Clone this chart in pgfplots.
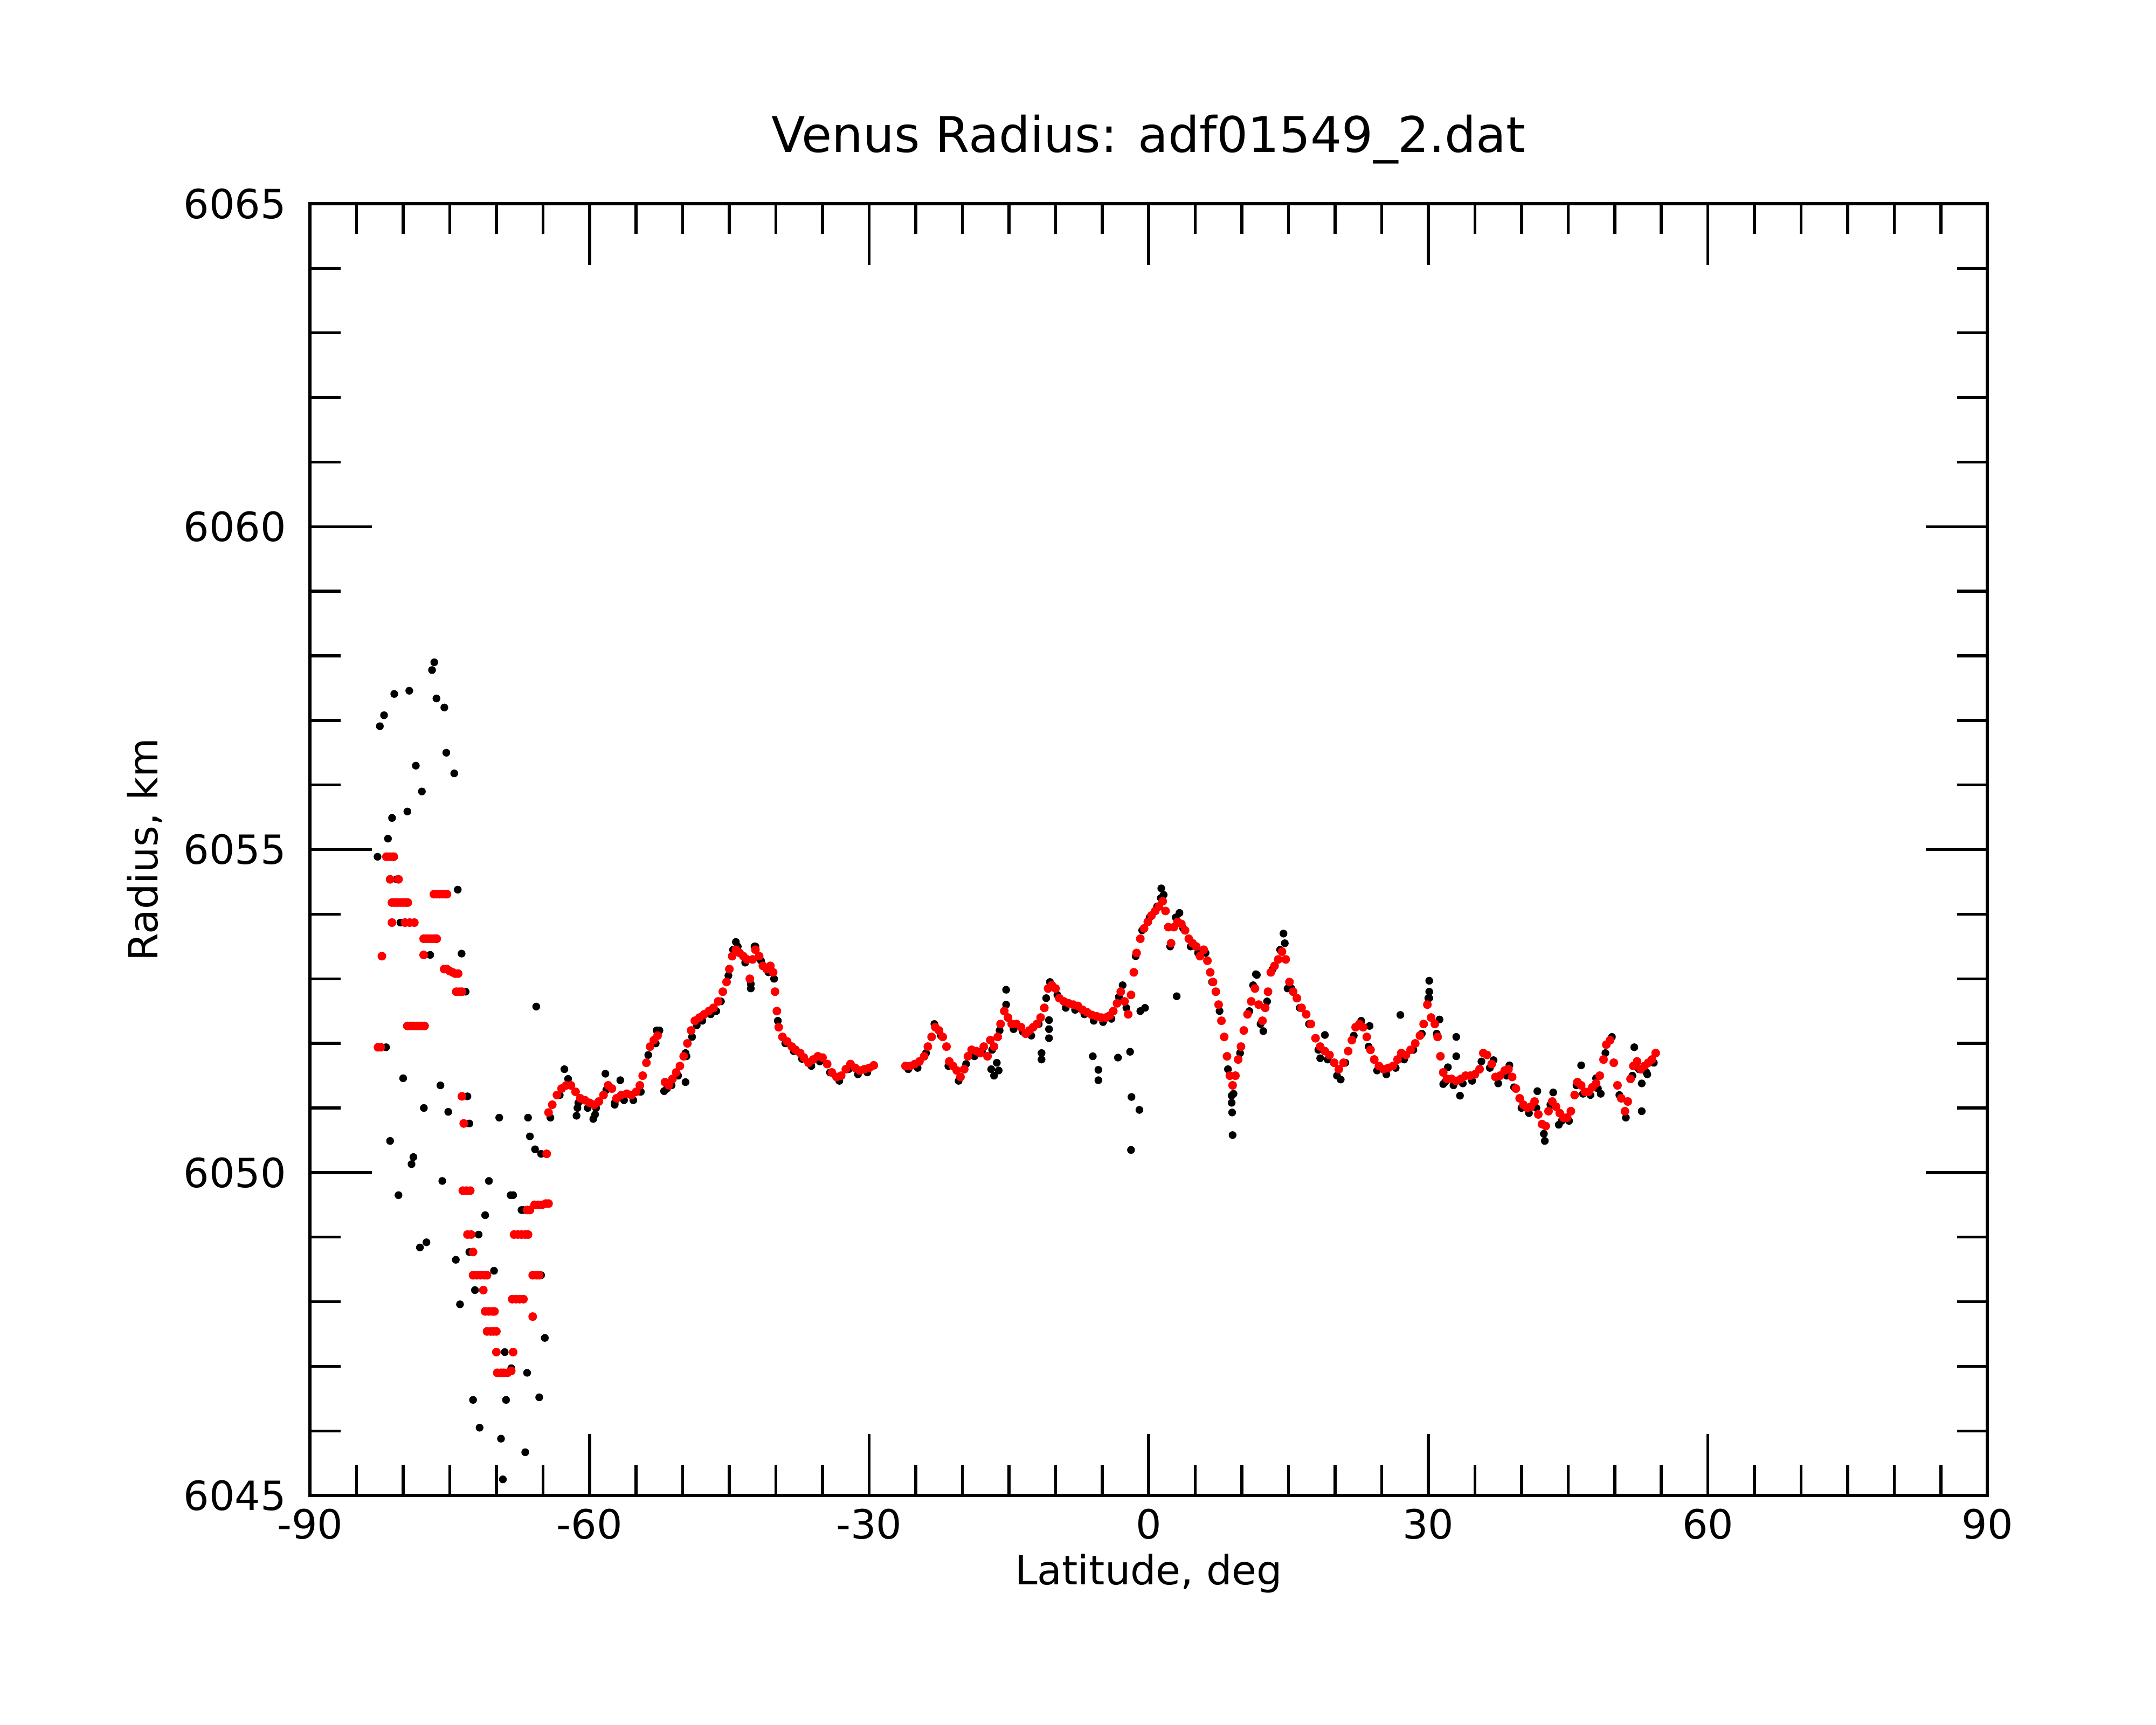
\documentclass[border=0pt]{standalone}
\usepackage{fontspec}
\setmainfont{DejaVu Sans}
\usepackage{pgfplots}
\pgfplotsset{compat=1.18}
\begin{document}
\fontsize{13.5pt}{16pt}\selectfont
\begin{tikzpicture}
\begin{axis}[
  scale only axis, width=562.3pt, height=433.1pt,
  xmin=-90, xmax=90, ymin=6045, ymax=6065,
  axis line style={line width=1.05pt},
  xtick={-90,-60,-30,0,30,60,90}, xticklabels={-90,-60,-30,0,30,60,90},
  ytick={6045,6050,6055,6060,6065}, yticklabels={6045,6050,6055,6060,6065},
  minor x tick num=5, minor y tick num=4,
  tick align=inside, major tick length=20.7pt, minor tick length=10.2pt,
  tick style={black, line width=1pt},
  xticklabel style={anchor=north, inner sep=0pt, yshift=-4.3pt},
  yticklabel style={anchor=east, inner sep=0pt, xshift=-7.8pt},
]
% black (raw) points
\addplot[only marks, mark=*, mark size=1.1pt, black, mark options={draw=none}] coordinates {
(-76.66,6057.9) (-76.9,6057.78) (-80.95,6057.41) (-79.34,6057.46) (-76.43,6057.34) (-75.58,6057.2)
(-82.05,6057.08) (-82.5,6056.91) (-75.37,6056.5) (-78.64,6056.3) (-74.52,6056.18) (-77.99,6055.9)
(-79.55,6055.59) (-81.19,6055.49) (-81.63,6055.17) (-82.75,6054.89) (-80.7,6054.54) (-74.14,6054.38)
(-80.3,6053.87) (-77.1,6053.37) (-73.73,6053.39) (-73.3,6052.8) (-65.72,6052.57) (-81.84,6051.94)
(-80.0,6051.46) (-76.0,6051.35) (-77.78,6051.0) (-75.16,6050.94) (-73.1,6051.18) (-72.9,6050.76)
(-69.69,6050.85) (-66.6,6050.85) (-66.4,6050.56) (-65.85,6050.36) (-65.2,6050.29) (-81.4,6050.49)
(-78.9,6050.24) (-79.1,6050.13) (-80.5,6049.65) (-75.8,6049.87) (-70.8,6049.87) (-68.47,6049.65)
(-68.2,6049.65) (-67.3,6049.42) (-67.1,6049.42) (-71.2,6049.34) (-71.9,6049.04) (-78.2,6048.84)
(-77.5,6048.92) (-74.35,6048.65) (-72.9,6048.77) (-70.25,6048.48) (-65.2,6048.41) (-72.3,6048.18)
(-73.9,6047.96) (-64.8,6047.44) (-69.1,6047.22) (-68.4,6046.97) (-66.7,6046.9) (-72.5,6046.48)
(-68.96,6046.48) (-65.4,6046.52) (-71.8,6046.05) (-69.5,6045.88) (-66.9,6045.67) (-69.3,6045.25)
(-62.7,6051.6) (-61.4,6050.88) (-61.3,6051.0) (-59.6,6050.83) (-59.4,6050.9) (-58.3,6051.53)
(-56.7,6051.43) (-57.3,6051.05) (-52.8,6052.2) (-52.0,6051.26) (-49.7,6051.4) (-49.6,6051.8)
(-42.7,6052.85) (-44.3,6053.57) (-42.2,6053.5)
(-15.3,6052.83) (-11.5,6051.85) (-11.5,6051.75) (-10.7,6052.36) (-10.7,6052.22) (-10.7,6052.08)
(-16.9,6051.6) (-16.6,6051.5) (-16.3,6051.7) (-16.1,6051.58)
(-6.0,6051.8) (-5.4,6051.59) (-5.4,6051.43) (-3.3,6051.78) (-2.0,6051.87) (-1.85,6051.17)
(-1.0,6050.97) (-1.9,6050.35) (-0.9,6052.5) (-0.4,6052.55) (3.0,6052.73)
(8.9,6051.19) (8.9,6051.08) (8.95,6050.93) (9.0,6050.58) (1.35,6054.4) (3.3,6054.02) (11.6,6053.06)
(14.46,6053.7) (11.5,6053.07) (12.3,6052.19) (14.9,6052.85) (18.9,6052.13) (18.4,6051.77)
(20.6,6051.44) (23.7,6052.27) (27.0,6052.44) (30.1,6052.97) (30.1,6052.8) (30.0,6052.7)
(31.2,6052.37) (33.0,6052.1) (33.0,6051.8) (32.1,6051.63) (31.6,6051.37) (33.4,6051.19)
(37.0,6051.74) (38.7,6051.66) (41.7,6051.26) (43.4,6051.24) (46.4,6051.66) (48.0,6051.46)
(48.5,6051.22) (44.0,6050.74) (42.5,6050.49) (52.1,6051.94) (52.9,6050.95) (53.5,6051.52)
(52.9,6051.38)
(-64.2,6050.85) (-63.2,6051.2) (-62.3,6051.45) (-61.2,6051.08) (-60.2,6051.0) (-59.3,6051.0)
(-58.2,6051.28) (-57.3,6051.08) (-56.3,6051.12) (-55.3,6051.12) (-54.5,6051.25) (-53.7,6051.82)
(-52.9,6052.0) (-52.5,6052.2) (-51.7,6051.3) (-51.2,6051.35) (-50.5,6051.5) (-49.7,6051.85)
(-49.0,6052.1) (-48.5,6052.28) (-47.9,6052.35) (-47.0,6052.45) (-46.4,6052.5) (-45.9,6052.65)
(-45.1,6053.05) (-44.6,6053.45) (-44.1,6053.5) (-43.3,6053.25) (-42.7,6052.92) (-42.3,6053.5)
(-41.6,6053.28) (-40.8,6053.1) (-40.2,6053.0) (-39.8,6052.35) (-39.0,6052.0) (-38.1,6051.88)
(-37.2,6051.76) (-36.2,6051.65) (-35.3,6051.72) (-34.2,6051.55) (-33.2,6051.42) (-32.2,6051.6)
(-31.2,6051.52) (-30.2,6051.55) (-25.8,6051.6) (-24.8,6051.62) (-23.9,6051.85) (-23.0,6052.3)
(-22.3,6052.12) (-21.5,6051.65) (-20.4,6051.42) (-19.6,6051.68) (-18.7,6051.8) (-17.9,6051.88)
(-16.8,6051.9) (-16.0,6052.2) (-15.3,6052.6) (-14.5,6052.22) (-13.5,6052.18) (-12.6,6052.12)
(-11.8,6052.3) (-11.0,6052.7) (-10.6,6052.95) (-9.8,6052.75) (-8.9,6052.55) (-7.9,6052.52)
(-6.9,6052.45) (-5.9,6052.35) (-4.9,6052.33) (-4.0,6052.38) (-3.2,6052.72) (-2.8,6052.9)
(-2.4,6052.55) (-1.4,6053.35) (-0.7,6053.75) (0.1,6053.95) (0.9,6054.12) (1.3,6054.25)
(1.6,6054.3) (2.3,6053.5) (2.9,6053.95) (3.7,6053.78) (4.5,6053.5) (5.3,6053.4) (6.1,6053.4)
(6.8,6052.95) (7.6,6052.5) (8.5,6051.6) (9.1,6051.22) (9.8,6051.85) (10.8,6052.5) (11.2,6052.9)
(12.0,6052.3) (12.7,6052.65) (13.3,6053.15) (14.1,6053.45) (14.6,6053.55) (15.3,6052.85)
(16.2,6052.55) (17.2,6052.3) (18.2,6051.9) (19.2,6051.75) (20.2,6051.5) (21.1,6051.7)
(22.0,6052.12) (22.8,6052.35) (23.6,6051.95) (24.5,6051.58) (25.5,6051.52) (26.5,6051.62)
(27.4,6051.75) (28.4,6051.9) (29.3,6052.15) (30.1,6052.7) (30.9,6052.15) (31.8,6051.4)
(32.7,6051.35) (33.7,6051.38) (34.7,6051.42) (35.7,6051.72) (36.6,6051.62) (37.5,6051.38)
(38.4,6051.5) (39.2,6051.32) (40.0,6051.0) (40.8,6050.92) (41.6,6051.0) (42.4,6050.6)
(43.1,6051.05) (44.3,6050.8) (45.1,6050.8) (45.9,6051.35) (46.6,6051.22) (47.4,6051.2)
(48.2,6051.3) (49.0,6051.85) (49.7,6052.1) (50.5,6051.2) (51.2,6050.85) (51.9,6051.5)
(52.6,6051.6) (53.4,6051.55) (54.2,6051.7)
};
% red (filtered) points
\addplot[only marks, mark=*, mark size=1.25pt, red, mark options={draw=none}] coordinates {
(-81.8,6054.89) (-81.5,6054.89) (-81.2,6054.89) (-81.0,6054.89)
(-81.4,6054.54) (-80.5,6054.54)
(-81.2,6054.18) (-80.9,6054.18) (-80.6,6054.18) (-80.3,6054.18) (-80.0,6054.18) (-79.7,6054.18) (-79.5,6054.18)
(-76.7,6054.31) (-76.4,6054.31) (-76.1,6054.31) (-75.8,6054.31) (-75.5,6054.31) (-75.3,6054.31)
(-81.2,6053.87) (-79.8,6053.87) (-79.3,6053.87) (-78.8,6053.87)
(-77.8,6053.62) (-77.5,6053.62) (-77.2,6053.62) (-76.9,6053.62) (-76.6,6053.62) (-76.4,6053.62)
(-77.8,6053.37) (-82.28,6053.35)
(-75.6,6053.15) (-75.3,6053.15) (-75.0,6053.12) (-74.7,6053.1) (-74.4,6053.08) (-74.1,6053.08)
(-74.3,6052.8) (-74.0,6052.8) (-73.7,6052.8)
(-79.55,6052.27) (-79.2,6052.27) (-78.9,6052.27) (-78.6,6052.27) (-78.3,6052.27) (-78.0,6052.27) (-77.7,6052.27)
(-82.7,6051.94) (-82.4,6051.94)
(-73.7,6051.18) (-73.5,6050.76)
(-73.6,6049.72) (-73.2,6049.72) (-72.8,6049.72)
(-66.7,6049.42) (-66.4,6049.42)
(-65.9,6049.5) (-65.5,6049.5) (-65.1,6049.5) (-64.7,6049.52) (-64.4,6049.52)
(-73.1,6049.04) (-72.7,6049.04) (-68.1,6049.04) (-67.7,6049.04) (-67.3,6049.04) (-66.9,6049.04) (-66.6,6049.04)
(-72.5,6048.77)
(-72.5,6048.41) (-72.1,6048.41) (-71.7,6048.41) (-71.3,6048.41) (-71.0,6048.41) (-66.1,6048.41) (-65.7,6048.41) (-65.4,6048.41)
(-71.4,6048.18)
(-68.3,6048.04) (-67.9,6048.04) (-67.5,6048.04) (-67.1,6048.04)
(-71.2,6047.85) (-70.8,6047.85) (-70.4,6047.85) (-70.2,6047.85)
(-66.1,6047.77)
(-71.0,6047.54) (-70.6,6047.54) (-70.3,6047.54) (-70.0,6047.54)
(-70.0,6047.22) (-68.2,6047.22)
(-69.9,6046.9) (-69.5,6046.9) (-69.2,6046.9) (-68.8,6046.9) (-68.4,6046.93)
(-64.6,6050.29)
(-64.4,6050.93) (-64.0,6051.05) (-63.5,6051.2) (-63.0,6051.3) (-62.5,6051.35) (-62.0,6051.35)
(-61.5,6051.25) (-61.0,6051.15) (-60.5,6051.12) (-60.0,6051.08) (-59.5,6051.05) (-59.0,6051.1)
(-58.5,6051.2) (-58.0,6051.35) (-57.6,6051.3) (-57.1,6051.15) (-56.6,6051.2) (-56.0,6051.22)
(-55.5,6051.2) (-55.0,6051.25) (-54.6,6051.35) (-54.3,6051.5) (-53.9,6051.7) (-53.5,6051.95)
(-53.1,6052.05) (-52.7,6052.12)
(-51.9,6051.4) (-51.5,6051.35) (-51.1,6051.45) (-50.7,6051.55) (-50.3,6051.65) (-49.9,6051.8)
(-49.5,6052.0) (-49.1,6052.2) (-48.7,6052.35) (-48.2,6052.4) (-47.7,6052.45) (-47.2,6052.5)
(-46.7,6052.55) (-46.2,6052.65) (-45.7,6052.8) (-45.3,6052.95) (-45.0,6053.15) (-44.7,6053.35)
(-44.3,6053.45) (-43.9,6053.4) (-43.5,6053.35) (-43.1,6053.3) (-42.8,6053.0) (-42.5,6053.3)
(-42.2,6053.45) (-41.8,6053.35) (-41.4,6053.2) (-41.0,6053.15) (-40.6,6053.2) (-40.3,6053.1)
(-40.1,6052.8) (-39.9,6052.5) (-39.7,6052.25) (-39.3,6052.1) (-38.8,6052.03) (-38.3,6051.95)
(-37.9,6051.9) (-37.4,6051.85) (-37.0,6051.78) (-36.5,6051.7) (-36.0,6051.75) (-35.5,6051.8)
(-35.0,6051.78) (-34.5,6051.68) (-34.0,6051.55) (-33.5,6051.48) (-33.0,6051.5) (-32.5,6051.6)
(-32.0,6051.68) (-31.5,6051.62) (-31.0,6051.58) (-30.5,6051.6) (-30.0,6051.62) (-29.5,6051.66)
(-26.1,6051.65) (-25.6,6051.65) (-25.1,6051.68) (-24.6,6051.72) (-24.1,6051.8) (-23.7,6051.95)
(-23.3,6052.1) (-22.9,6052.25) (-22.5,6052.2) (-22.1,6052.1) (-21.7,6051.95) (-21.4,6051.72)
(-21.0,6051.65) (-20.6,6051.58) (-20.2,6051.48) (-19.8,6051.6) (-19.4,6051.8) (-19.0,6051.9)
(-18.5,6051.88) (-18.1,6051.85) (-17.7,6051.95) (-17.3,6051.8) (-17.0,6052.05) (-16.6,6051.95)
(-16.2,6052.1) (-15.9,6052.3) (-15.5,6052.5) (-15.1,6052.4) (-14.7,6052.3) (-14.2,6052.3)
(-13.7,6052.25) (-13.2,6052.15) (-12.8,6052.2) (-12.4,6052.25) (-12.0,6052.3) (-11.6,6052.4)
(-11.2,6052.55) (-10.8,6052.85) (-10.4,6052.9) (-10.0,6052.85) (-9.6,6052.7) (-9.1,6052.65)
(-8.6,6052.62) (-8.1,6052.6) (-7.6,6052.58) (-7.1,6052.52) (-6.6,6052.48) (-6.1,6052.44)
(-5.6,6052.42) (-5.1,6052.4) (-4.6,6052.4) (-4.2,6052.43) (-3.8,6052.5) (-3.4,6052.62)
(-3.0,6052.8) (-2.6,6052.65) (-2.2,6052.45) (-1.9,6052.75) (-1.6,6053.1) (-1.3,6053.4)
(-0.9,6053.62) (-0.5,6053.78) (-0.1,6053.88) (0.3,6053.98) (0.7,6054.05) (1.1,6054.12)
(1.5,6054.2) (1.8,6054.05) (2.1,6053.8) (2.4,6053.55) (2.7,6053.8) (3.1,6053.88)
(3.5,6053.85) (3.9,6053.75) (4.3,6053.62) (4.7,6053.55) (5.1,6053.5) (5.5,6053.35)
(5.9,6053.45) (6.3,6053.28) (6.6,6053.1) (6.9,6052.95) (7.2,6052.8) (7.5,6052.6)
(7.8,6052.35) (8.1,6052.1) (8.4,6051.8) (8.7,6051.5) (9.0,6051.35) (9.3,6051.5)
(9.6,6051.75) (9.9,6051.95) (10.2,6052.2) (10.6,6052.45) (11.0,6052.65) (11.4,6052.85)
(11.8,6052.6) (12.2,6052.35) (12.5,6052.55) (12.8,6052.8) (13.1,6053.1) (13.5,6053.2)
(13.9,6053.3) (14.3,6053.42) (14.7,6053.3) (15.1,6052.95) (15.5,6052.8) (15.9,6052.7)
(16.4,6052.55) (16.9,6052.45) (17.4,6052.3) (17.9,6052.08) (18.4,6051.95) (18.9,6051.88)
(19.4,6051.82) (19.9,6051.7) (20.4,6051.6) (20.9,6051.7) (21.4,6051.88) (21.8,6052.05)
(22.2,6052.25) (22.6,6052.3) (23.0,6052.25) (23.4,6052.1) (23.8,6051.9) (24.2,6051.75)
(24.7,6051.65) (25.2,6051.6) (25.7,6051.62) (26.2,6051.65) (26.7,6051.75) (27.1,6051.85)
(27.6,6051.82) (28.1,6051.9) (28.6,6052.0) (29.1,6052.12) (29.5,6052.3) (29.9,6052.6)
(30.3,6052.4) (30.7,6052.3) (31.0,6052.1) (31.3,6051.8) (31.6,6051.55) (32.0,6051.45)
(32.5,6051.45) (33.0,6051.42) (33.5,6051.45) (34.0,6051.5) (34.5,6051.5) (35.0,6051.52)
(35.5,6051.6) (35.9,6051.85) (36.3,6051.82) (36.8,6051.68) (37.2,6051.48) (37.7,6051.5)
(38.2,6051.58) (38.6,6051.6) (39.0,6051.48) (39.4,6051.3) (39.8,6051.15) (40.2,6051.05)
(40.6,6051.0) (41.0,6051.02) (41.4,6051.1) (41.8,6050.9) (42.2,6050.75) (42.6,6050.72)
(42.9,6050.95) (43.3,6051.1) (43.7,6051.02) (44.1,6050.92) (44.5,6050.85) (44.9,6050.85)
(45.3,6050.95) (45.7,6051.2) (46.0,6051.4) (46.4,6051.35) (46.8,6051.25) (47.2,6051.25)
(47.6,6051.32) (48.0,6051.38) (48.4,6051.5) (48.8,6051.75) (49.1,6051.98) (49.5,6052.05)
(49.9,6051.7) (50.3,6051.35) (50.7,6051.15) (51.1,6050.95) (51.4,6051.1) (51.7,6051.45)
(52.0,6051.65) (52.4,6051.72) (52.8,6051.6) (53.2,6051.65) (53.6,6051.7) (54.0,6051.75)
(54.4,6051.85)
};
\end{axis}
\node[anchor=base, font=\fontsize{16.5pt}{19pt}\selectfont] at (281.15pt,450.4pt) {Venus Radius: adf01549\_2.dat};
\node[anchor=base] at (281.15pt,-29.8pt) {Latitude, deg};
\node[anchor=base, rotate=90] at (-51.1pt,216.55pt) {Radius, km};
\pgfresetboundingbox
\path (-103.9pt,-76.8pt) rectangle (618.8pt,501.4pt);
\end{tikzpicture}
\end{document}
